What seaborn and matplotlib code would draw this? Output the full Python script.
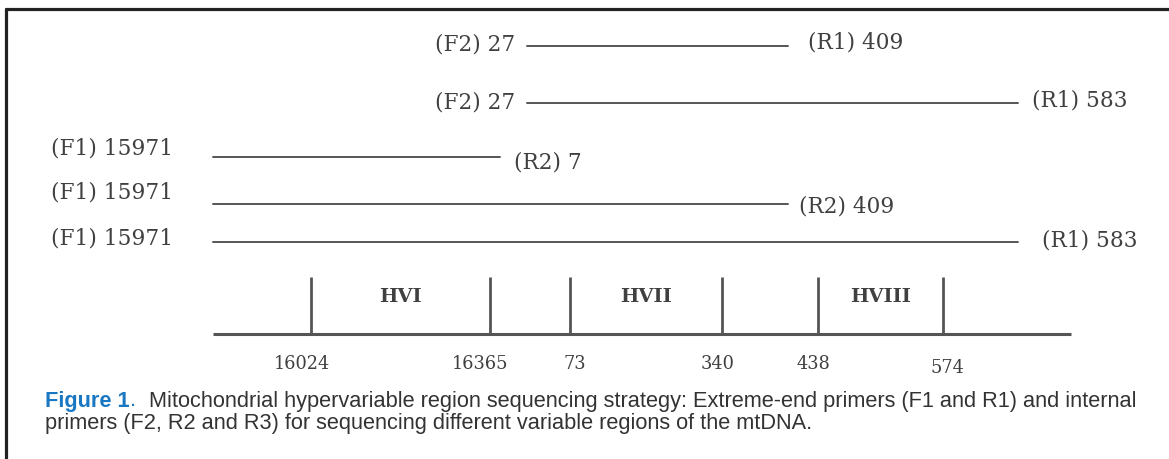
import numpy as np
import pandas as pd
import matplotlib
matplotlib.use("Agg")
import matplotlib.pyplot as plt
from matplotlib.lines import Line2D
import seaborn as sns

# ---------------- data ----------------
fwd_names = ["F2", "F2", "F1", "F1", "F1"]
fwd_pos = [27, 27, 15971, 15971, 15971]
rev_names = ["R1", "R1", "R2", "R2", "R1"]
rev_pos = [409, 583, 7, 409, 583]
region_names = ["HVI", "HVII", "HVIII"]
region_start = [16024, 73, 438]
region_end = [16365, 340, 574]
MT_LEN = 16569

caption_head = "Figure 1"
caption_line1 = "Mitochondrial hypervariable region sequencing strategy: Extreme-end primers (F1 and R1) and internal"
caption_line2 = "primers (F2, R2 and R3) for sequencing different variable regions of the mtDNA."

# ---------------- layout (schematic, not to scale) ----------------
W, H = 1169, 459
# anchors: linearised bp -> horizontal pixel on the schematic
anchor_bp = [-713, -598, -545, -204, 7, 27, 73, 340, 409, 438, 574, 583, 640, 745]
anchor_px = [0, 213, 311, 490, 500, 527, 570, 722, 788, 818, 943, 1018, 1071, 1169]
axis_end_bp = 640
row_y = [46, 103, 157, 204, 242]
fwd_gap = [-12, -12, -40, -40, -40]
fwd_dy = [1, 1, 9, 11, 4]
rev_gap = [20, 14, 14, 11, 24]
rev_dy = [3, 2, -5, -2, 1]
tick_top, base_y, label_y, hv_y = 277, 334, 364, 297
tick_dx = [-9, -10, 5, -4, -5, 4]
tick_dy = [0, 0, 0, 0, 0, -4]

TXT = "#404040"
LINE = "#555555"


def lin(p):
    p = np.asarray(p, dtype=float)
    return np.where(p > MT_LEN / 2, p - MT_LEN, p)


def fwd(x):
    return np.interp(x, anchor_bp, anchor_px)


def inv(x):
    return np.interp(x, anchor_px, anchor_bp)


sns.set_theme(style="white")
plt.rcParams["font.family"] = ["DejaVu Serif"]

fig = plt.figure(figsize=(W / 100, H / 100), dpi=100)
ax = fig.add_axes([0, 0, 1, 1])

# primer segments via seaborn
rows = []
for i, (a, b) in enumerate(zip(fwd_pos, rev_pos)):
    rows.append({"seg": i, "pos": float(lin(a)), "y": row_y[i]})
    rows.append({"seg": i, "pos": float(lin(b)), "y": row_y[i]})
df = pd.DataFrame(rows)
sns.lineplot(data=df, x="pos", y="y", units="seg", estimator=None, sort=False,
             color=LINE, lw=1.4, legend=False, ax=ax)

ax.set_xscale("function", functions=(fwd, inv))
ax.set_xlim(anchor_bp[0], anchor_bp[-1])
ax.set_ylim(H, 0)
ax.axis("off")

# primer labels
for i in range(len(fwd_pos)):
    ax.annotate(f"({fwd_names[i]}) {fwd_pos[i]}", xy=(float(lin(fwd_pos[i])), row_y[i]),
                xytext=(fwd_gap[i], fwd_dy[i]), textcoords="offset pixels",
                ha="right", va="center", fontsize=15.6, color=TXT)
    ax.annotate(f"({rev_names[i]}) {rev_pos[i]}", xy=(float(lin(rev_pos[i])), row_y[i]),
                xytext=(rev_gap[i], rev_dy[i]), textcoords="offset pixels",
                ha="left", va="center", fontsize=15.6, color=TXT)

# baseline and region ticks
ax.plot([float(lin(fwd_pos[2])), axis_end_bp], [base_y, base_y], color=LINE, lw=2.2,
        solid_capstyle="butt")
bounds = []
for s, e in zip(region_start, region_end):
    bounds += [s, e]
ax.vlines(lin(bounds), tick_top, base_y, color=LINE, lw=2.0)
for k, b in enumerate(bounds):
    ax.annotate(str(b), xy=(float(lin(b)), label_y), xytext=(tick_dx[k], tick_dy[k]),
                textcoords="offset pixels", ha="center", va="center",
                fontsize=12.8, color=TXT)
for name, s, e in zip(region_names, region_start, region_end):
    mid = inv((fwd(lin(s)) + fwd(lin(e))) / 2)
    ax.text(float(mid), hv_y, name, ha="center", va="center", fontsize=14,
            fontweight="bold", color=TXT)

# frame
fig.add_artist(Line2D([6 / W, 1], [1 - 9 / H, 1 - 9 / H], transform=fig.transFigure,
                      color="#222222", lw=2.3))
fig.add_artist(Line2D([6 / W, 6 / W], [0, 1 - 9 / H], transform=fig.transFigure,
                      color="#222222", lw=2.3))

# caption
cap_font = ["Liberation Sans", "DejaVu Sans"]
CFS = 15.7
renderer = fig.canvas.get_renderer()
t_head = fig.text(45 / W, 1 - 401 / H, caption_head, family=cap_font, fontweight="bold",
                  color="#1a78c2", fontsize=CFS, va="center", ha="left")
x_end = t_head.get_window_extent(renderer).x1
t_dot = fig.text(x_end / W, 1 - 401 / H, ".", family=cap_font, color="#1a78c2",
                 fontsize=CFS, va="center", ha="left")
x_end2 = t_dot.get_window_extent(renderer).x1
fig.text((x_end2 + 13) / W, 1 - 401 / H, caption_line1, family=cap_font, color="#333333",
         fontsize=CFS, va="center", ha="left")
fig.text(45 / W, 1 - 424 / H, caption_line2, family=cap_font, color="#333333",
         fontsize=CFS, va="center", ha="left")

fig.savefig("out.png", dpi=100)
